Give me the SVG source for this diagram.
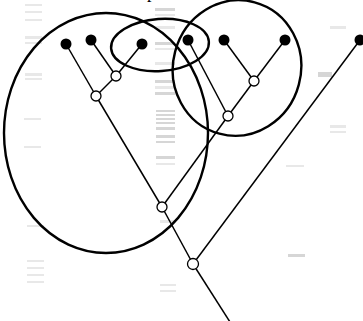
<svg xmlns="http://www.w3.org/2000/svg" width="363" height="321" viewBox="0 0 363 321">
<style>
.band{fill:#000;opacity:0.09}
.dark{opacity:0.16}
.edge{stroke:#000;stroke-width:1.5;fill:none}
.ring{stroke:#000;stroke-width:2.4;fill:none}
.leaf{fill:#000}
.inner{fill:#fff;stroke:#000;stroke-width:1.3}
.lbl{font-family:"Liberation Serif",serif;font-size:18px;fill:#000}
</style>
<rect width="363" height="321" fill="#fff"/>
<g id="background">
<rect class="band" x="25" y="4" width="17" height="2"/>
<rect class="band" x="25" y="11" width="17" height="2"/>
<rect class="band" x="25" y="19" width="17" height="2"/>
<rect class="band" x="25" y="36" width="17" height="3"/>
<rect class="band" x="25" y="42" width="17" height="2"/>
<rect class="band" x="25" y="73" width="17" height="3"/>
<rect class="band" x="25" y="78" width="17" height="2"/>
<rect class="band" x="24" y="118" width="17" height="2"/>
<rect class="band" x="24" y="146" width="17" height="2"/>
<rect class="band" x="27" y="225" width="17" height="2"/>
<rect class="band" x="27" y="260" width="17" height="2"/>
<rect class="band" x="27" y="267" width="17" height="2"/>
<rect class="band" x="27" y="274" width="17" height="2"/>
<rect class="band" x="27" y="281" width="17" height="2"/>
<rect class="band dark" x="155" y="8" width="20" height="3"/>
<rect class="band" x="155" y="14" width="20" height="2"/>
<rect class="band" x="155" y="26" width="20" height="3"/>
<rect class="band dark" x="155" y="42" width="20" height="3"/>
<rect class="band" x="155" y="48" width="20" height="2"/>
<rect class="band" x="155" y="62" width="20" height="3"/>
<rect class="band dark" x="155" y="80" width="20" height="3"/>
<rect class="band" x="155" y="86" width="20" height="3"/>
<rect class="band dark" x="155" y="92" width="20" height="3"/>
<rect class="band dark" x="156" y="110" width="19" height="2"/>
<rect class="band dark" x="156" y="114" width="19" height="2"/>
<rect class="band dark" x="156" y="118" width="19" height="2"/>
<rect class="band dark" x="156" y="122" width="19" height="2"/>
<rect class="band dark" x="156" y="127" width="19" height="3"/>
<rect class="band dark" x="156" y="135" width="19" height="3"/>
<rect class="band dark" x="156" y="141" width="19" height="2"/>
<rect class="band dark" x="156" y="156" width="19" height="3"/>
<rect class="band" x="156" y="163" width="19" height="2"/>
<rect class="band" x="160" y="220" width="16" height="3"/>
<rect class="band" x="160" y="284" width="16" height="2"/>
<rect class="band" x="160" y="290" width="16" height="2"/>
<rect class="band" x="330" y="26" width="16" height="3"/>
<rect class="band dark" x="318" y="72" width="14" height="5"/>
<rect class="band" x="330" y="125" width="16" height="3"/>
<rect class="band" x="330" y="131" width="16" height="2"/>
<rect class="band" x="286" y="165" width="18" height="2"/>
<rect class="band dark" x="288" y="254" width="17" height="3"/>
</g>
<text class="lbl" x="147" y="-2">p</text>
<g id="groups">
<ellipse id="group-left" class="ring" cx="106" cy="133" rx="102" ry="120"/>
<ellipse id="group-mid" class="ring" cx="160" cy="45" rx="49" ry="26" transform="rotate(-4 160 45)"/>
<ellipse id="group-right" class="ring" cx="237" cy="68" rx="64" ry="68" transform="rotate(15 237 68)"/>
</g>
<g id="connectors">
<line class="edge" x1="66" y1="44" x2="96" y2="96"/>
<line class="edge" x1="91" y1="40" x2="116" y2="76"/>
<line class="edge" x1="142" y1="44" x2="116" y2="76"/>
<line class="edge" x1="116" y1="76" x2="96" y2="96"/>
<line class="edge" x1="96" y1="96" x2="162" y2="207"/>
<line class="edge" x1="188" y1="40" x2="228" y2="116"/>
<line class="edge" x1="224" y1="40" x2="254" y2="81"/>
<line class="edge" x1="285" y1="40" x2="254" y2="81"/>
<line class="edge" x1="254" y1="81" x2="228" y2="116"/>
<line class="edge" x1="228" y1="116" x2="162" y2="207"/>
<line class="edge" x1="162" y1="207" x2="193" y2="264"/>
<line class="edge" x1="360" y1="40" x2="193" y2="264"/>
<line class="edge" x1="193" y1="264" x2="230" y2="322"/>
</g>
<g id="n-l1"><circle class="leaf" cx="66" cy="44" r="5.5"/></g>
<g id="n-l2"><circle class="leaf" cx="91" cy="40" r="5.5"/></g>
<g id="n-l3"><circle class="leaf" cx="142" cy="44" r="5.5"/></g>
<g id="n-l4"><circle class="leaf" cx="188" cy="40" r="5.5"/></g>
<g id="n-l5"><circle class="leaf" cx="224" cy="40" r="5.5"/></g>
<g id="n-l6"><circle class="leaf" cx="285" cy="40" r="5.5"/></g>
<g id="n-l7"><circle class="leaf" cx="360" cy="40" r="5.5"/></g>
<g id="n-a"><circle class="inner" cx="116" cy="76" r="5"/></g>
<g id="n-b"><circle class="inner" cx="96" cy="96" r="5"/></g>
<g id="n-c"><circle class="inner" cx="254" cy="81" r="5"/></g>
<g id="n-d"><circle class="inner" cx="228" cy="116" r="5"/></g>
<g id="n-e"><circle class="inner" cx="162" cy="207" r="5"/></g>
<g id="n-f"><circle class="inner" cx="193" cy="264" r="5.5"/></g>
</svg>
